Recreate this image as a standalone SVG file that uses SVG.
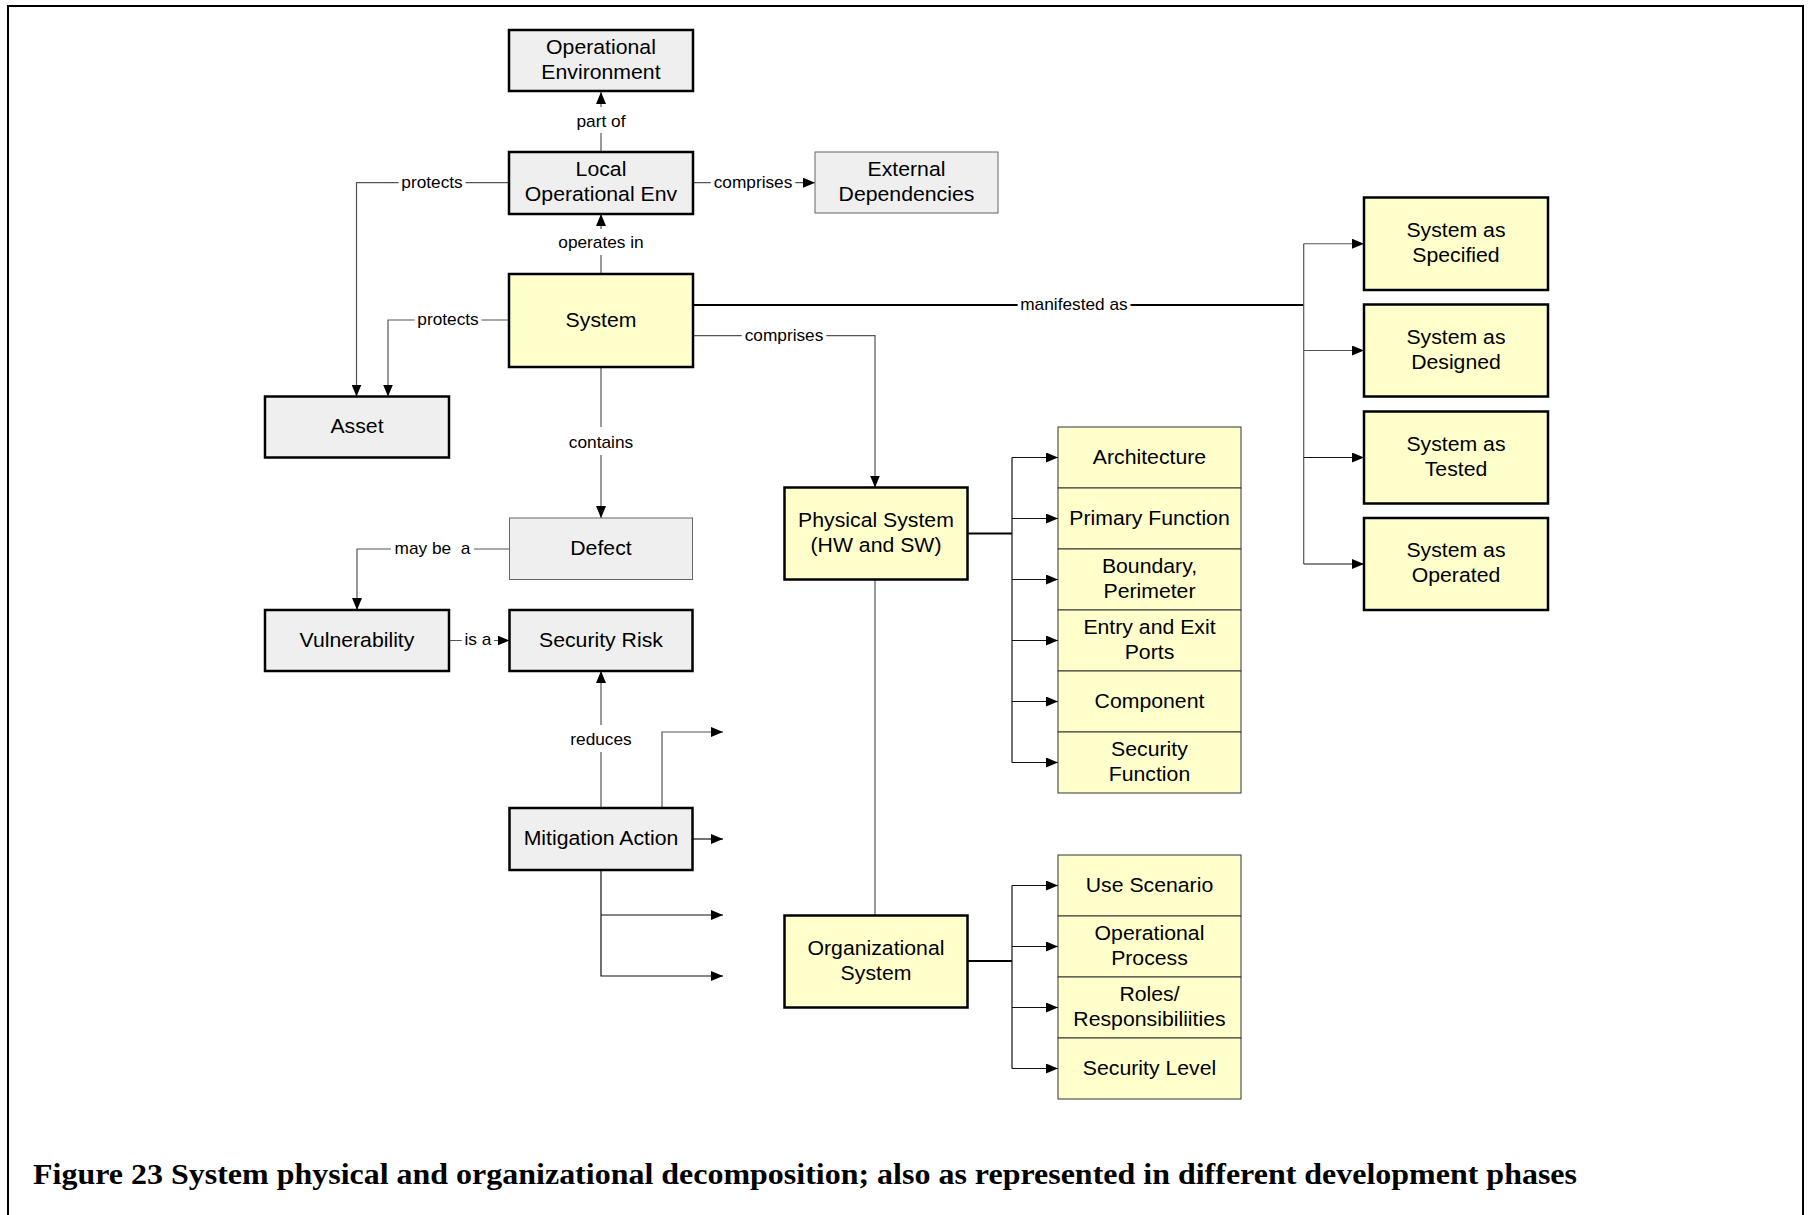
<svg xmlns="http://www.w3.org/2000/svg" width="1811" height="1215" viewBox="0 0 1811 1215">
  <style>
    .bg { fill: #ffffff; }
    .frame { fill: none; stroke: #000; stroke-width: 2; }
    .gray { fill: #efefef; }
    .yellow { fill: #ffffcc; }
    .thick { stroke: #000; stroke-width: 2.5; }
    .thin { stroke: #666; stroke-width: 1; }
    .cell { stroke: #333; stroke-width: 1; }
    .t { font-family: "Liberation Sans", Arial, sans-serif; font-size: 19.5px; text-anchor: middle; fill: #000;
         transform-box: fill-box; transform-origin: center; transform: scaleX(1.09); }
    .lbl { font-family: "Liberation Sans", Arial, sans-serif; font-size: 16px; text-anchor: middle; fill: #000;
           stroke: #fff; stroke-width: 7px; stroke-linejoin: round; paint-order: stroke;
           transform-box: fill-box; transform-origin: center; transform: scaleX(1.08); }
    .cap { font-family: "Liberation Serif", "Times New Roman", serif; font-size: 29px; font-weight: bold; fill: #000; }
    .c { fill: none; stroke: #555; stroke-width: 1.2; }
    .cb { fill: none; stroke: #111; stroke-width: 1.2; }
    .heavy { fill: none; stroke: #000; stroke-width: 2.2; }
  </style>
  <defs>
    <marker id="arr" markerUnits="userSpaceOnUse" markerWidth="12" markerHeight="10" refX="12" refY="5" orient="auto">
      <path d="M0,0 L12,5 L0,10 z" fill="#000"/>
    </marker>
  </defs>

  <rect class="bg" x="0" y="0" width="1811" height="1215"/>
  <path class="frame" d="M8,1215 V6 H1803 V1215"/>

  <!-- connectors -->
  <g id="connectors">
    <!-- part of -->
    <path class="c" d="M601,152 V133"/>
    <path class="c" d="M601,107 V92" marker-end="url(#arr)"/>
    <!-- operates in -->
    <path class="c" d="M601,274 V255"/>
    <path class="c" d="M601,229 V214" marker-end="url(#arr)"/>
    <!-- local env comprises external -->
    <path class="c" d="M693,182.7 H815" marker-end="url(#arr)"/>
    <!-- protects (local env) -->
    <path class="c" d="M509,182.7 H356.5 V396.5" marker-end="url(#arr)"/>
    <!-- protects (system) -->
    <path class="c" d="M509,320 H388 V396.5" marker-end="url(#arr)"/>
    <!-- system comprises physical -->
    <path class="c" d="M693,335.7 H875 V487.5" marker-end="url(#arr)"/>
    <!-- manifested as -->
    <path class="heavy" d="M693,305 H1303.7"/>
    <path class="c" d="M1303.7,243.75 V564"/>
    <path class="c" d="M1303.7,243.75 H1364" marker-end="url(#arr)"/>
    <path class="c" d="M1303.7,350.5 H1364" marker-end="url(#arr)"/>
    <path class="cb" d="M1303.7,457.5 H1364" marker-end="url(#arr)"/>
    <path class="cb" d="M1303.7,564 H1364" marker-end="url(#arr)"/>
    <!-- contains -->
    <path class="c" d="M601,367 V427"/>
    <path class="c" d="M601,455 V518" marker-end="url(#arr)"/>
    <!-- may be a -->
    <path class="c" d="M509.5,549 H474"/>
    <path class="c" d="M391,549 H357 V610" marker-end="url(#arr)"/>
    <!-- is a -->
    <path class="c" d="M449,640.5 H509.5" marker-end="url(#arr)"/>
    <!-- reduces -->
    <path class="c" d="M601,808 V752"/>
    <path class="c" d="M601,725 V671" marker-end="url(#arr)"/>
    <!-- mitigation outgoing -->
    <path class="c" d="M662,808 V732 H723" marker-end="url(#arr)"/>
    <path class="cb" d="M692.5,839 H723" marker-end="url(#arr)"/>
    <path class="cb" d="M601,870 V976 H723" marker-end="url(#arr)"/>
    <path class="cb" d="M601,915 H723" marker-end="url(#arr)"/>
    <!-- physical to organizational -->
    <path class="c" d="M875,579.5 V915.5"/>
    <!-- physical decomposition -->
    <path class="heavy" d="M967.5,533.5 H1012"/>
    <path class="cb" d="M1012,457.5 V762.5"/>
    <path class="cb" d="M1012,457.5 H1058" marker-end="url(#arr)"/>
    <path class="cb" d="M1012,518.5 H1058" marker-end="url(#arr)"/>
    <path class="cb" d="M1012,579.5 H1058" marker-end="url(#arr)"/>
    <path class="cb" d="M1012,640.5 H1058" marker-end="url(#arr)"/>
    <path class="cb" d="M1012,701.5 H1058" marker-end="url(#arr)"/>
    <path class="cb" d="M1012,762.5 H1058" marker-end="url(#arr)"/>
    <!-- organizational decomposition -->
    <path class="heavy" d="M967.5,961 H1012"/>
    <path class="cb" d="M1012,885.5 V1068.5"/>
    <path class="cb" d="M1012,885.5 H1058" marker-end="url(#arr)"/>
    <path class="cb" d="M1012,946.5 H1058" marker-end="url(#arr)"/>
    <path class="cb" d="M1012,1007.5 H1058" marker-end="url(#arr)"/>
    <path class="cb" d="M1012,1068.5 H1058" marker-end="url(#arr)"/>

    <!-- connector labels -->
    <text class="lbl" x="601" y="127">part of</text>
    <text class="lbl" x="601" y="248">operates in</text>
    <text class="lbl" x="753" y="188">comprises</text>
    <text class="lbl" x="432" y="188">protects</text>
    <text class="lbl" x="448" y="325">protects</text>
    <text class="lbl" x="784" y="341">comprises</text>
    <text class="lbl" x="1074" y="310">manifested as</text>
    <text class="lbl" x="601" y="448">contains</text>
    <text class="lbl" x="432.5" y="554" xml:space="preserve">may be  a</text>
    <text class="lbl" x="478" y="645.5">is a</text>
    <text class="lbl" x="601" y="745">reduces</text>
  </g>

  <!-- nodes -->
  <g id="op-env">
    <rect class="gray thick" x="509" y="30" width="184" height="61"/>
    <text class="t" x="601" y="54">Operational</text>
    <text class="t" x="601" y="79">Environment</text>
  </g>
  <g id="local-env">
    <rect class="gray thick" x="509" y="152" width="184" height="62"/>
    <text class="t" x="601" y="176.5">Local</text>
    <text class="t" x="601" y="201.5">Operational Env</text>
  </g>
  <g id="external">
    <rect class="gray thin" x="815" y="152" width="183" height="61"/>
    <text class="t" x="906.5" y="176">External</text>
    <text class="t" x="906.5" y="201">Dependencies</text>
  </g>
  <g id="system">
    <rect class="yellow thick" x="509" y="274" width="184" height="93"/>
    <text class="t" x="601" y="327">System</text>
  </g>
  <g id="asset">
    <rect class="gray thick" x="265" y="396.5" width="184" height="61"/>
    <text class="t" x="357" y="433.5">Asset</text>
  </g>
  <g id="defect">
    <rect class="gray thin" x="509.5" y="518" width="183" height="61.5"/>
    <text class="t" x="601" y="555.5">Defect</text>
  </g>
  <g id="vulnerability">
    <rect class="gray thick" x="265" y="610" width="184" height="61"/>
    <text class="t" x="357" y="647">Vulnerability</text>
  </g>
  <g id="security-risk">
    <rect class="gray thick" x="509.5" y="610" width="183" height="61"/>
    <text class="t" x="601" y="647">Security Risk</text>
  </g>
  <g id="mitigation">
    <rect class="gray thick" x="509.5" y="808" width="183" height="62"/>
    <text class="t" x="601" y="845.5">Mitigation Action</text>
  </g>
  <g id="physical">
    <rect class="yellow thick" x="784.5" y="487.5" width="183" height="92"/>
    <text class="t" x="876" y="527">Physical System</text>
    <text class="t" x="876" y="552">(HW and SW)</text>
  </g>
  <g id="organizational">
    <rect class="yellow thick" x="784.5" y="915.5" width="183" height="92"/>
    <text class="t" x="876" y="955">Organizational</text>
    <text class="t" x="876" y="980">System</text>
  </g>

  <g id="architecture">
    <rect class="yellow cell" x="1058" y="427" width="183" height="61"/>
    <text class="t" x="1149.5" y="464">Architecture</text>
  </g>
  <g id="primary-function">
    <rect class="yellow cell" x="1058" y="488" width="183" height="61"/>
    <text class="t" x="1149.5" y="525">Primary Function</text>
  </g>
  <g id="boundary">
    <rect class="yellow cell" x="1058" y="549" width="183" height="61"/>
    <text class="t" x="1149.5" y="573">Boundary,</text>
    <text class="t" x="1149.5" y="598">Perimeter</text>
  </g>
  <g id="ports">
    <rect class="yellow cell" x="1058" y="610" width="183" height="61"/>
    <text class="t" x="1149.5" y="634">Entry and Exit</text>
    <text class="t" x="1149.5" y="659">Ports</text>
  </g>
  <g id="component">
    <rect class="yellow cell" x="1058" y="671" width="183" height="61"/>
    <text class="t" x="1149.5" y="708">Component</text>
  </g>
  <g id="security-function">
    <rect class="yellow cell" x="1058" y="732" width="183" height="61"/>
    <text class="t" x="1149.5" y="756">Security</text>
    <text class="t" x="1149.5" y="781">Function</text>
  </g>

  <g id="use-scenario">
    <rect class="yellow cell" x="1058" y="855" width="183" height="61"/>
    <text class="t" x="1149.5" y="892">Use Scenario</text>
  </g>
  <g id="operational-process">
    <rect class="yellow cell" x="1058" y="916" width="183" height="61"/>
    <text class="t" x="1149.5" y="940">Operational</text>
    <text class="t" x="1149.5" y="965">Process</text>
  </g>
  <g id="roles">
    <rect class="yellow cell" x="1058" y="977" width="183" height="61"/>
    <text class="t" x="1149.5" y="1001">Roles/</text>
    <text class="t" x="1149.5" y="1026">Responsibiliities</text>
  </g>
  <g id="security-level">
    <rect class="yellow cell" x="1058" y="1038" width="183" height="61"/>
    <text class="t" x="1149.5" y="1075">Security Level</text>
  </g>

  <g id="as-specified">
    <rect class="yellow thick" x="1364" y="197.5" width="184" height="92.5"/>
    <text class="t" x="1456" y="237">System as</text>
    <text class="t" x="1456" y="262">Specified</text>
  </g>
  <g id="as-designed">
    <rect class="yellow thick" x="1364" y="304.5" width="184" height="92"/>
    <text class="t" x="1456" y="344">System as</text>
    <text class="t" x="1456" y="369">Designed</text>
  </g>
  <g id="as-tested">
    <rect class="yellow thick" x="1364" y="411.5" width="184" height="92"/>
    <text class="t" x="1456" y="451">System as</text>
    <text class="t" x="1456" y="476">Tested</text>
  </g>
  <g id="as-operated">
    <rect class="yellow thick" x="1364" y="518" width="184" height="92"/>
    <text class="t" x="1456" y="557.5">System as</text>
    <text class="t" x="1456" y="582.5">Operated</text>
  </g>

  <text class="cap" x="33" y="1184" textLength="1544" lengthAdjust="spacingAndGlyphs">Figure 23 System physical and organizational decomposition; also as represented in different development phases</text>
</svg>
